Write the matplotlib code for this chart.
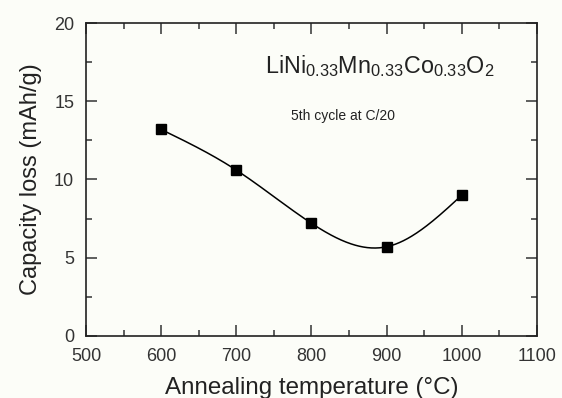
import numpy as np
import matplotlib
matplotlib.use('Agg')
import matplotlib.pyplot as plt
from matplotlib.ticker import MultipleLocator

plt.rcParams['font.family'] = ['Liberation Sans', 'DejaVu Sans']
plt.rcParams['mathtext.fontset'] = 'custom'
plt.rcParams['mathtext.rm'] = 'Liberation Sans'
plt.rcParams['mathtext.it'] = 'Liberation Sans:italic'

temperature = [600, 700, 800, 900, 1000]
capacity_loss = [13.2, 10.6, 7.2, 5.7, 9.0]


def natural_spline(x, y, n=300):
    # natural cubic spline through the measured points
    x = np.asarray(x, float)
    y = np.asarray(y, float)
    h = np.diff(x)
    m = len(x)
    A = np.zeros((m, m))
    b = np.zeros(m)
    A[0, 0] = A[-1, -1] = 1
    for i in range(1, m - 1):
        A[i, i - 1] = h[i - 1]
        A[i, i] = 2 * (h[i - 1] + h[i])
        A[i, i + 1] = h[i]
        b[i] = 6 * ((y[i + 1] - y[i]) / h[i] - (y[i] - y[i - 1]) / h[i - 1])
    M = np.linalg.solve(A, b)
    xs = np.linspace(x[0], x[-1], n)
    idx = np.clip(np.searchsorted(x, xs) - 1, 0, m - 2)
    x0, x1 = x[idx], x[idx + 1]
    hh = x1 - x0
    t0, t1 = x1 - xs, xs - x0
    ys = (M[idx] * t0 ** 3 + M[idx + 1] * t1 ** 3) / (6 * hh) \
        + (y[idx] / hh - M[idx] * hh / 6) * t0 \
        + (y[idx + 1] / hh - M[idx + 1] * hh / 6) * t1
    return xs, ys


fig = plt.figure(figsize=(5.62, 3.98), dpi=100, facecolor='#fcfdf8')
ax = fig.add_axes([0.153, 0.156, 0.8025, 0.786])
ax.set_facecolor('#fcfdf8')

xs, ys = natural_spline(temperature, capacity_loss)
ax.plot(xs, ys, color='black', lw=1.1)
ax.plot(temperature, capacity_loss, 's', color='black', markersize=6.5)

ax.set_xlim(500, 1100)
ax.set_ylim(0, 20)
ax.xaxis.set_major_locator(MultipleLocator(100))
ax.xaxis.set_minor_locator(MultipleLocator(50))
ax.yaxis.set_major_locator(MultipleLocator(5))
ax.yaxis.set_minor_locator(MultipleLocator(2.5))
ax.tick_params(which='both', direction='in', top=True, right=True,
               width=1.1, labelsize=13, colors='#333333')
ax.tick_params(axis='x', pad=9)
ax.tick_params(axis='y', pad=8.5)
ax.tick_params(which='major', length=8)
ax.tick_params(which='minor', length=4.5)
for s in ax.spines.values():
    s.set_linewidth(1.2)
    s.set_color('#222222')

ax.set_xlabel('Annealing temperature (°C)', fontsize=17.4, color='#222222', labelpad=8)
ax.set_ylabel('Capacity loss (mAh/g)', fontsize=17, color='#222222', labelpad=9)

ax.text(0.397, 0.84, r'$\mathrm{LiNi_{0.33}Mn_{0.33}Co_{0.33}O_2}$',
        transform=ax.transAxes, fontsize=16.8, color='#222222')
ax.text(0.455, 0.69, '5th cycle at C/20', transform=ax.transAxes,
        fontsize=10, color='#222222')

fig.savefig('out.png', dpi=100, facecolor=fig.get_facecolor())
